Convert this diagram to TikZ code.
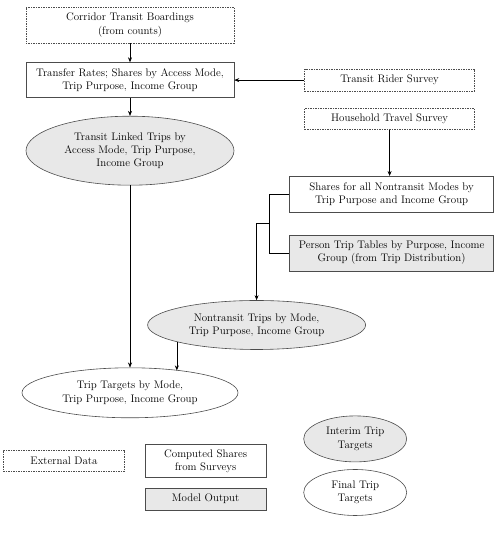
\documentclass[tikz,border=0pt]{standalone}
\usetikzlibrary{arrows.meta, calc, graphs, positioning, shapes.geometric}

\begin{document}
\begin{tikzpicture}[node distance=10pt, line width=0.6pt,
    >={Stealth[length=5bp, width=4bp]},
    font=\fontsize{11}{13.3}\selectfont,
    ext/.style={draw=black!70, dash pattern=on 1.5pt off 1pt, align=center, inner sep=1pt},
    share/.style={draw=black!70, align=center, inner sep=1pt},
    output/.style={draw=black!70, fill=black!9, align=center, inner sep=1pt},
    interim/.style={ellipse, draw=black!70, fill=black!9, align=center, inner sep=0pt},
    final/.style={ellipse, draw=black!70, align=center, inner sep=0pt}]
    \useasboundingbox (-130bp,25bp) rectangle (370bp,-516bp);

    \node[ext, minimum width=208bp, minimum height=36bp]                               (Boardings)        {Corridor Transit Boardings\\(from counts)};
    \node[share, minimum width=208bp, minimum height=35bp, below=19bp of Boardings]    (Transfer Rates)   {Transfer Rates; Shares by Access Mode,\\Trip Purpose, Income Group};
    \node[interim, minimum width=208bp, minimum height=69bp, below=18bp of Transfer Rates] (Transit Trips) {Transit Linked Trips by\\Access Mode, Trip Purpose,\\Income Group};
    \node[ext, minimum width=170bp, minimum height=22bp, right=70bp of Transfer Rates] (Rider Survey)     {Transit Rider Survey};
    \node[ext, minimum width=170bp, minimum height=21bp, below=17bp of Rider Survey]   (Household Survey) {Household Travel Survey};
    \node[share, minimum width=204bp, minimum height=36bp, below=46bp of Household Survey, xshift=2bp] (Nontransit Shares) {Shares for all Nontransit Modes by\\Trip Purpose and Income Group};
    \node[output, minimum width=204bp, minimum height=36bp, below=22bp of Nontransit Shares] (Person Trips) {Person Trip Tables by Purpose, Income\\Group (from Trip Distribution)};
    \node[interim, minimum width=218bp, minimum height=49bp, below=29bp of Person Trips, xshift=-135bp] (Nontransit Trips) {Nontransit Trips by Mode,\\Trip Purpose, Income Group};
    \node[final, minimum width=216bp, minimum height=50bp, below=182bp of Transit Trips] (Trip Targets) {Trip Targets by Mode,\\Trip Purpose, Income Group};

    % legend
    \node[ext, minimum width=121bp, minimum height=21bp, below=32bp of Trip Targets, xshift=-66bp] (Key External) {External Data};
    \node[share, minimum width=121bp, minimum height=33bp, right=20bp of Key External] (Key Shares)  {Computed Shares\\from Surveys};
    \node[output, minimum width=121bp, minimum height=22bp, below=10bp of Key Shares]  (Key Output)  {Model Output};
    \node[interim, minimum width=103bp, minimum height=46bp, right=37bp of Key Shares, yshift=22bp] (Key Interim) {Interim Trip\\Targets};
    \node[final, minimum width=103bp, minimum height=46bp, below=7bp of Key Interim]   (Key Final)   {Final Trip\\Targets};

    \graph{
        (Boardings) -> (Transfer Rates) -> (Transit Trips) -> (Trip Targets);
        (Rider Survey) -> (Transfer Rates);
    };
    \draw[->] (Household Survey) -- (Household Survey |- Nontransit Shares.north);
    \draw (Nontransit Shares.west) -- ++(-20bp,0) |- (Person Trips.west);
    \coordinate (Split) at ($(Nontransit Shares.west)!.5!(Person Trips.west) + (-20bp,0)$);
    \draw[->] (Split) -| (Nontransit Trips.north);
    \draw[->] (Nontransit Trips.192.7) -- (Nontransit Trips.192.7 |- Trip Targets.24.5);
\end{tikzpicture}
\end{document}
